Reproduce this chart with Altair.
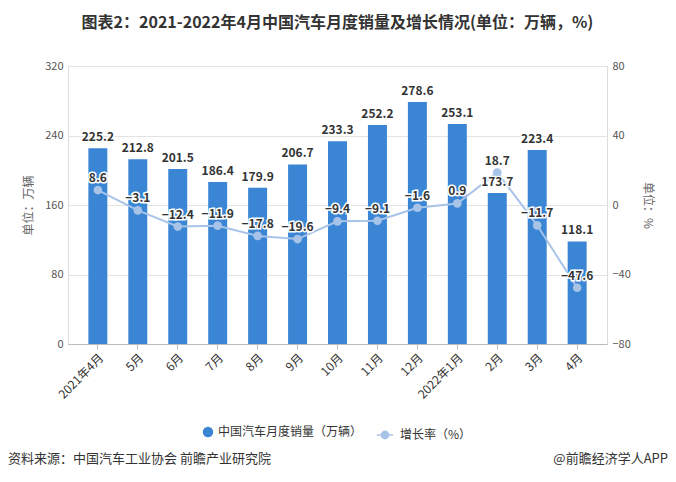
import altair as alt
import pandas as pd

months = ["2021年4月", "5月", "6月", "7月", "8月", "9月", "10月", "11月", "12月",
          "2022年1月", "2月", "3月", "4月"]
sales = [225.2, 212.8, 201.5, 186.4, 179.9, 206.7, 233.3, 252.2, 278.6, 253.1, 173.7, 223.4, 118.1]
growth = [8.6, -3.1, -12.4, -11.9, -17.8, -19.6, -9.4, -9.1, -1.6, 0.9, 18.7, -11.7, -47.6]

s_bar = "中国汽车月度销量（万辆）"
s_line = "增长率（%）"
title_text = "图表2：2021-2022年4月中国汽车月度销量及增长情况(单位：万辆，%)"
source_left = "资料来源：中国汽车工业协会 前瞻产业研究院"
source_right = "@前瞻经济学人APP"

BLUE = "#3a86d4"
LIGHT = "#a7c3e8"
FONT = "Noto Sans CJK SC"


def _circ(r):
    return f"M{r},0A{r},{r} 0 1 1 -{r},0A{r},{r} 0 1 1 {r},0"


LINE_DOT = "M-1,0H1" + "".join(_circ(r) for r in ["0.45", "0.33", "0.21", "0.09"])

df = pd.DataFrame({"month": months, "sales": sales, "growth": growth,
                   "s1": [s_bar] * len(months), "s2": [s_line] * len(months)})

W, H = 539, 278

xenc = alt.X("month:N", sort=months, title=None,
             scale=alt.Scale(paddingInner=0.525, paddingOuter=0.51),
             axis=alt.Axis(labelAngle=-45, labelFontSize=12, labelColor="#333",
                           labelFont=FONT, domainColor="#bbbbbb", tickColor="#bbbbbb",
                           tickSize=5, labelPadding=3, grid=False))
xsimple = alt.X("month:N", sort=months)

legend1 = alt.Legend(title=None, orient="none", direction="horizontal",
                     legendX=134, legendY=360, symbolType="circle", symbolSize=110,
                     labelFontSize=12, labelFont=FONT, labelColor="#333",
                     symbolStrokeWidth=0)
legend2 = alt.Legend(title=None, orient="none", direction="horizontal",
                     legendX=308, legendY=360, symbolSize=260,
                     symbolStrokeColor=LIGHT,
                     symbolStrokeWidth=1.5, symbolOpacity=1,
                     labelFontSize=12, labelFont=FONT, labelColor="#333",
                     labelOffset=6)

base = alt.Chart(df)

left_scale = alt.Scale(domain=[0, 320], nice=False, zero=True)
right_scale = alt.Scale(domain=[-80, 80], nice=False)

yleft = alt.Y("sales:Q", title="单位：万辆", scale=left_scale,
              axis=alt.Axis(values=[0, 80, 160, 240, 320], orient="left",
                            labelFontSize=11, labelColor="#555", labelFont=FONT,
                            titleFontSize=12, titleColor="#666", titleFont=FONT,
                            titleFontWeight="normal", titlePadding=9,
                            domain=False, ticks=False, gridColor="#e3e3e3",
                            labelPadding=5))

bars = base.mark_bar(color=BLUE).encode(
    x=xenc, y=yleft,
    color=alt.Color("s1:N", scale=alt.Scale(domain=[s_bar], range=[BLUE]), legend=legend1))

yl2 = alt.Y("sales:Q", scale=left_scale, axis=None)
bar_halo = base.mark_text(baseline="bottom", dy=-4, fontSize=12, fontWeight="bold",
                          font=FONT, stroke="white", strokeWidth=2.5, color="white").encode(
    x=xsimple, y=yl2, text=alt.Text("sales:Q", format=".1f"))
bar_labels = base.mark_text(baseline="bottom", dy=-4, fontSize=12, fontWeight="bold",
                            font=FONT, color="#333").encode(
    x=xsimple, y=yl2, text=alt.Text("sales:Q", format=".1f"))
bar_text = alt.layer(bar_halo, bar_labels)

yright = alt.Y("growth:Q", title="单位：%", scale=right_scale,
               axis=alt.Axis(values=[-80, -40, 0, 40, 80], orient="right",
                             labelFontSize=11, labelColor="#555", labelFont=FONT,
                             titleFontSize=12, titleColor="#666", titleFont=FONT,
                             titleFontWeight="normal", titlePadding=10, titleAngle=90,
                             domain=False, ticks=False, grid=False, labelPadding=5))
yr2 = alt.Y("growth:Q", scale=right_scale)

line = base.mark_line(strokeWidth=2, color=LIGHT).encode(x=xsimple, y=yright)
pts = base.mark_point(filled=True, size=75, opacity=1, color=LIGHT).encode(x=xsimple, y=yr2)
dummy = base.mark_point(filled=False, opacity=0, color=LIGHT, strokeWidth=1.5).encode(
    x=xsimple, y=yr2,
    shape=alt.Shape("s2:N", scale=alt.Scale(domain=[s_line], range=[LINE_DOT]), legend=legend2))
halo = base.mark_text(baseline="bottom", dy=-5, fontSize=12, fontWeight="bold",
                      font=FONT, stroke="white", strokeWidth=3, color="white").encode(
    x=xsimple, y=yr2, text=alt.Text("growth:Q", format=".1f"))
line_labels = base.mark_text(baseline="bottom", dy=-5, fontSize=12, fontWeight="bold",
                             font=FONT, color="#333").encode(
    x=xsimple, y=yr2, text=alt.Text("growth:Q", format=".1f"))

right = alt.layer(line, pts, dummy, halo, line_labels)

src_df = pd.DataFrame({"t": [source_left]})
src_r_df = pd.DataFrame({"t": [source_right]})
src_l = alt.Chart(src_df).mark_text(align="left", baseline="middle", fontSize=13,
                                    font=FONT, color="#333").encode(
    x=alt.value(-60), y=alt.value(459 - 66), text="t:N")
src_r = alt.Chart(src_r_df).mark_text(align="right", baseline="middle", fontSize=13,
                                      font=FONT, color="#333").encode(
    x=alt.value(668 - 68), y=alt.value(459 - 66), text="t:N")

chart = alt.layer(bars, right, bar_text, src_l, src_r).resolve_scale(y="independent").properties(
    width=W, height=H,
    autosize=alt.AutoSizeParams(type="none"),
    padding={"left": 60, "top": 58, "right": 61, "bottom": 130},
    title=alt.TitleParams(title_text, fontSize=16, fontWeight="bold", color="#333",
                          font=FONT, anchor="middle", offset=29),
).configure_view(stroke=None).configure(background="white")

chart.save("out.html", embed_options={"renderer": "svg", "actions": False})
